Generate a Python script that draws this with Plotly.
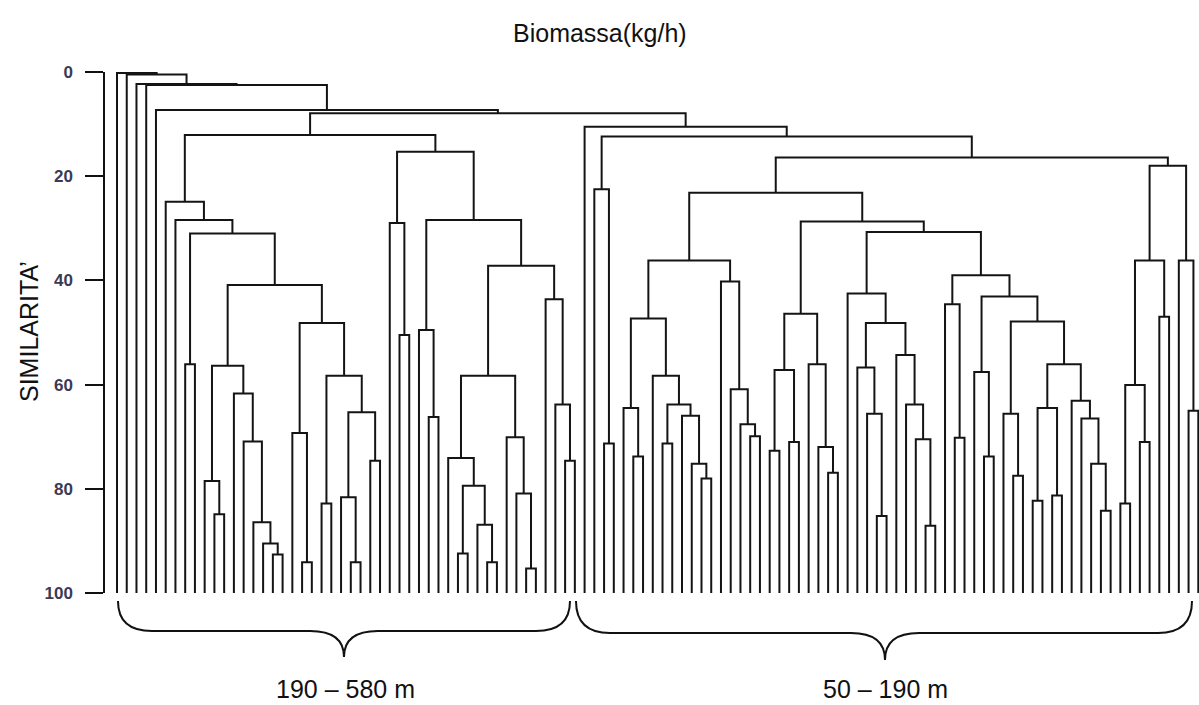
import plotly.graph_objects as go

# ---------------- data (similarity of each merge; ints are leaf positions) ----------------
# nodes are (similarity, left, right)
LEFT_F = (56.4, (78.5, 9, (84.9, 10, 11)),
          (61.7, 12, (70.9, 13, (86.4, 14, (90.5, 15, (92.6, 16, 17))))))
LEFT_K = (48.2, (69.3, 18, (94.1, 19, 20)),
          (58.3, (82.8, 21, 22), (65.3, (81.6, 23, (94.1, 24, 25)), (74.6, 26, 27))))
LEFT_B = (24.9, 5, (28.4, 6, (31.0, (56.1, 7, 8), (40.9, LEFT_F, LEFT_K))))
LEFT_U = (58.3, (74.1, 34, (79.4, (92.4, 35, 36), (86.9, 37, (94.1, 38, 39)))),
          (70.1, 40, (80.9, 41, (95.3, 42, 43))))
LEFT_Y = (43.6, 44, (63.8, 45, (74.6, 46, 47)))
LEFT_P = (15.3, (29.0, 28, (50.5, 29, 30)),
          (28.4, (49.5, 31, (66.2, 32, 33)), (37.2, LEFT_U, LEFT_Y)))
LEFT_GROUP = (12.1, LEFT_B, LEFT_P)

RIGHT_AF = (47.3, (64.5, 52, (73.8, 53, 54)),
            (58.3, 55, (63.8, (71.3, 56, 57), (66.0, 58, (75.2, 59, (78.0, 60, 61))))))
RIGHT_AH = (40.2, 62, (60.9, 63, (67.6, 64, (69.9, 65, 66))))
RIGHT_AJ = (46.4, (57.2, (72.7, 67, 68), (71.0, 69, 70)),
            (56.1, 71, (72.0, 72, (76.9, 73, 74))))
RIGHT_AL = (42.5, 75, (48.2, (56.7, 76, (65.6, 77, (85.2, 78, 79))),
                       (54.3, 80, (63.8, 81, (70.5, 82, (87.1, 83, 84))))))
RIGHT_AT = (56.1, (64.5, (82.3, 94, 95), (81.3, 96, 97)),
            (63.1, 98, (66.5, 99, (75.2, 100, (84.2, 101, 102)))))
RIGHT_AQ = (39.0, (44.6, 85, (70.2, 86, 87)),
            (43.1, (57.6, 88, (73.8, 89, 90)), (47.9, (65.6, 91, (77.5, 92, 93)), RIGHT_AT)))
RIGHT_AD = (23.2, (36.2, RIGHT_AF, RIGHT_AH), (28.7, RIGHT_AJ, (30.7, RIGHT_AL, RIGHT_AQ)))
RIGHT_AC = (18.0, (36.2, (60.1, (82.8, 103, 104), (71.0, 105, 106)), (47.0, 107, 108)),
            (36.2, 109, (65.0, 110, 111)))
RIGHT_GROUP = (10.5, 48, (12.4, (22.5, 49, (71.3, 50, 51)), (16.4, RIGHT_AD, RIGHT_AC)))

ROOT = (0.2, 0, (0.5, 1, (2.3, 2, (2.5, 3, (7.3, 4, (7.9, LEFT_GROUP, RIGHT_GROUP))))))

N_LEAVES = 112
LEAF_SIMILARITY = 100
Y_TICKS = [0, 20, 40, 60, 80, 100]
GROUP_LABELS = ["190 – 580 m", "50 – 190 m"]
TITLE = "Biomassa(kg/h)"
Y_TITLE = "SIMILARITA’"

# ---------------- build dendrogram segments ----------------
xs, ys = [], []


def walk(node):
    if isinstance(node, int):
        return float(node), float(LEAF_SIMILARITY)
    h, a, b = node
    xa, ha = walk(a)
    xb, hb = walk(b)
    xs.extend([xa, xa, xb, xb, None])
    ys.extend([ha, h, h, hb, None])
    return (xa + xb) / 2.0, h


walk(ROOT)

# ---------------- layout geometry ----------------
W, H = 1199, 705
ML, MR, MT, MB = 105, 0, 72, 112
PW, PH = W - ML - MR, H - MT - MB
LEAF0_PX, LEAF_LAST_PX = 117.0, 1198.3
step = (LEAF_LAST_PX - LEAF0_PX) / (N_LEAVES - 1)
x_lo = -(LEAF0_PX - ML) / step
x_hi = (N_LEAVES - 1) + (W - MR - LEAF_LAST_PX) / step


def pp(px, py):
    return (px - ML) / PW, 1 - (py - MT) / PH


def brace_path(x0, x1, xt, ytop, ybar, ytip, r=34):
    pts = [
        ("M", [(x0, ytop)]),
        ("Q", [(x0, ybar), (x0 + r, ybar)]),
        ("L", [(xt - r, ybar)]),
        ("Q", [(xt, ybar), (xt, ytip)]),
        ("Q", [(xt, ybar), (xt + r, ybar)]),
        ("L", [(x1 - r, ybar)]),
        ("Q", [(x1, ybar), (x1, ytop)]),
    ]
    out = []
    for cmd, ps in pts:
        coords = " ".join("%.5f,%.5f" % pp(px, py) for px, py in ps)
        out.append(cmd + " " + coords)
    return " ".join(out)


FONT = "Liberation Sans, Arial, sans-serif"

fig = go.Figure()
fig.add_trace(go.Scatter(
    x=xs, y=ys, mode="lines",
    line=dict(color="#141414", width=2),
    hoverinfo="skip", showlegend=False,
))

shapes = [
    dict(type="path", xref="paper", yref="paper",
         path=brace_path(118, 570, 344, 601, 631, 657),
         line=dict(color="#111", width=2)),
    dict(type="path", xref="paper", yref="paper",
         path=brace_path(576, 1192, 885, 601, 633, 660),
         line=dict(color="#111", width=2)),
]


def text_at(px, py, text, size, angle=0):
    x, y = pp(px, py)
    return dict(x=x, y=y, xref="paper", yref="paper", text=text, textangle=angle,
                xanchor="center", yanchor="middle", showarrow=False,
                font=dict(family=FONT, size=size, color="#111"))


annotations = [
    text_at(600, 33, TITLE, 25),
    text_at(29, 332, Y_TITLE, 25, -90),
    text_at(345, 689, GROUP_LABELS[0], 25),
    text_at(885, 689, GROUP_LABELS[1], 25),
]

fig.update_layout(
    width=W, height=H,
    margin=dict(l=ML, r=MR, t=MT, b=MB, pad=0),
    paper_bgcolor="white", plot_bgcolor="white",
    shapes=shapes, annotations=annotations,
    xaxis=dict(range=[x_lo, x_hi], visible=False, fixedrange=True),
    yaxis=dict(range=[100, 0], tickvals=Y_TICKS, ticktext=[str(t) for t in Y_TICKS],
               showgrid=False, zeroline=False, showline=True, linecolor="#111", linewidth=1.5,
               ticks="outside", ticklen=18, tickwidth=1.5, tickcolor="#111",
               ticklabelstandoff=9,
               tickfont=dict(family=FONT, size=17, color="#3a3a55", weight="bold")),
)

fig.write_html("out.html")
